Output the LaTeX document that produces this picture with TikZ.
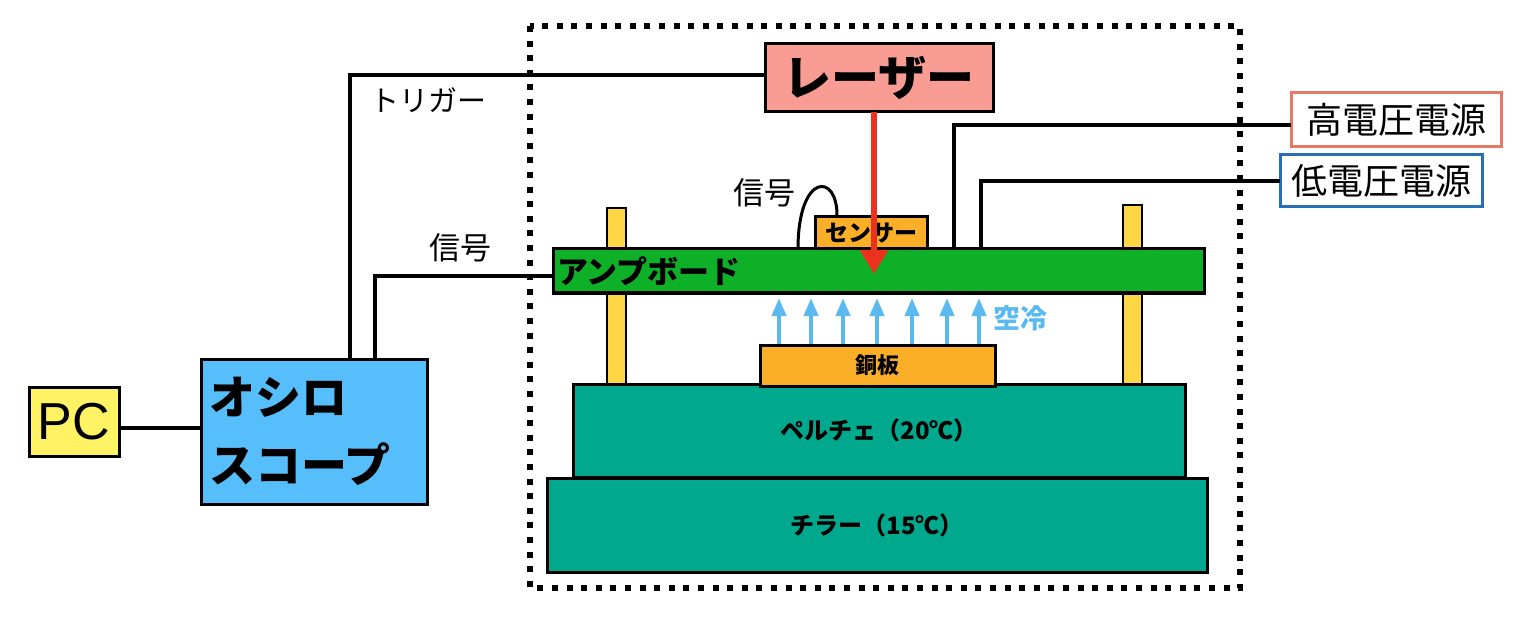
\documentclass[tikz,border=0pt]{standalone}
\usepackage{fontspec}
\setmainfont{Noto Sans CJK JP}
\newfontfamily\pcfont{Liberation Sans}
\usetikzlibrary{arrows.meta}
\definecolor{laserc}{RGB}{248,156,148}
\definecolor{oscc}{RGB}{86,190,250}
\definecolor{pcc}{RGB}{255,242,100}
\definecolor{ampc}{RGB}{14,176,40}
\definecolor{orangec}{RGB}{251,174,40}
\definecolor{postc}{RGB}{255,214,70}
\definecolor{tealc}{RGB}{0,168,142}
\definecolor{hvc}{RGB}{230,120,100}
\definecolor{lvc}{RGB}{40,110,180}
\definecolor{redc}{RGB}{235,50,30}
\definecolor{bluec}{RGB}{90,185,240}
\tikzset{
  box/.style={draw=black, line width=3pt, inner sep=0pt, outer sep=0pt},
  post/.style={draw=black, line width=2pt, fill=postc, inner sep=0pt, outer sep=0pt},
  wire/.style={draw=black, line width=3.8pt},
  lbl/.style={inner sep=0pt},
  air/.style={draw=bluec, line width=4pt, -{Triangle[width=14pt,length=18pt]}},
}
\begin{document}
\begin{tikzpicture}[x=1pt,y=-1pt]
\useasboundingbox (0,0) rectangle (1520,620);
% posts (behind)
\node[post, minimum width=19, minimum height=177] (postL) at (616.5,296.5) {};
\node[post, minimum width=19, minimum height=180] (postR) at (1132.5,295) {};
% dotted enclosure
\draw[line width=6pt, dash pattern=on 6pt off 8.6pt] (530,26) rectangle (1240,588);
% boxes
\node[box, fill=laserc, minimum width=228, minimum height=68, font=\fontsize{48}{56}\selectfont\bfseries] (laser) at (879,78) {レーザー};
\node[box, fill=oscc, minimum width=226, minimum height=145, text width=210, inner xsep=8pt, align=left, font=\fontsize{46}{68}\selectfont\bfseries] (osc) at (314,431.5) {オシロ\\スコープ};
\node[box, fill=pcc, minimum width=90, minimum height=69, font=\fontsize{52}{60}\selectfont\pcfont] (pc) at (74,421.5) {PC};
\node[box, fill=orangec, minimum width=112, minimum height=32, font=\fontsize{23}{28}\selectfont\bfseries] (sensor) at (871,233) {センサー};
\node[box, fill=ampc, minimum width=651, minimum height=44, text width=643, inner xsep=4pt, align=left, font=\fontsize{31}{36}\selectfont\bfseries] (amp) at (878.5,271) {アンプボード};
\node[box, fill=tealc, minimum width=612, minimum height=93, font=\fontsize{24}{28}\selectfont\bfseries] (peltier) at (879,430.5) {ペルチェ（20℃）};
\node[box, fill=tealc, minimum width=660, minimum height=94, font=\fontsize{24}{28}\selectfont\bfseries] (chiller) at (877,525) {チラー（15℃）};
\node[box, fill=orangec, minimum width=235, minimum height=41, font=\fontsize{22}{26}\selectfont\bfseries] (copper) at (877.5,365.5) {銅板};
\node[box, draw=hvc, fill=white, minimum width=210, minimum height=54, font=\fontsize{36}{42}\selectfont] (hv) at (1396,120) {高電圧電源};
\node[box, draw=lvc, fill=white, minimum width=202, minimum height=52, font=\fontsize{36}{42}\selectfont] (lv) at (1381,181) {低電圧電源};
% coordinates
\coordinate (oscT) at (350,359);
\coordinate (oscS) at (375,359);
\coordinate (ampS) at (553,276);
\coordinate (ampHV) at (954,249);
\coordinate (ampLV) at (981,249);
\coordinate (loopA) at (798,249);
\coordinate (loopB) at (837,217);
\coordinate (beamS) at (874,112);
\coordinate (beamE) at (874,274);
% wires
\draw[wire] (laser.west |- 0,75) -| (oscT);
\draw[wire] (ampS) -| (oscS);
\draw[wire] (pc.east |- 0,428) -- (osc.west |- 0,428);
\draw[wire] (hv.west |- 0,125) -| (ampHV);
\draw[wire] (lv.west) -| (ampLV);
\draw[wire, line width=3pt] (loopA) .. controls (798,172) and (838,172) .. (loopB);
% laser beam
\draw[draw=redc, line width=6pt, -{Triangle[width=27pt,length=24pt]}] (beamS) -- (beamE);
% air cooling arrows
\foreach \i/\x in {1/779,2/811,3/843,4/877,5/912,6/947,7/979}{
  \coordinate (aS\i) at (\x,344);
  \coordinate (aE\i) at (\x,298);
  \draw[air] (aS\i) -- (aE\i);
}
% labels
\node[lbl, font=\fontsize{29}{34}\selectfont] (trig) at (428,100) {トリガー};
\node[lbl, font=\fontsize{31}{36}\selectfont] (sig1) at (460,248) {信号};
\node[lbl, font=\fontsize{31}{36}\selectfont] (sig2) at (764,193) {信号};
\node[lbl, text=bluec, font=\fontsize{27}{30}\selectfont\bfseries] (air) at (1020,318) {空冷};
\end{tikzpicture}
\end{document}
